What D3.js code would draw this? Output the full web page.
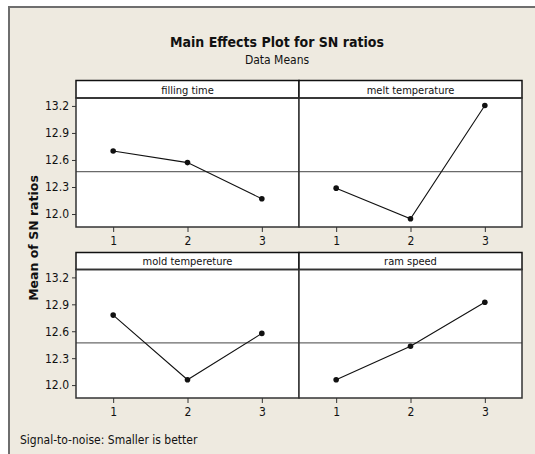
<!DOCTYPE html>
<html><head><meta charset="utf-8">
<script src="https://cdn.jsdelivr.net/npm/d3@7"></script>
<style>
body{margin:0;background:#fff;}
svg{display:block;}
.cond{font-family:"DejaVu Sans Condensed","DejaVu Sans",sans-serif;font-stretch:condensed;}
</style></head>
<body><div id="chart"></div>
<script>
const factors = ["filling time", "melt temperature", "mold tempereture", "ram speed"];
const levels = [1, 2, 3];
const fillingTime = [12.70, 12.571, 12.169];
const meltTemperature = [12.287, 11.948, 13.204];
const moldTemperature = [12.78, 12.059, 12.576];
const ramSpeed = [12.059, 12.433, 12.923];
const yTicks = [12.0, 12.3, 12.6, 12.9, 13.2];
const grandMean = 12.47;
const seriesList = [fillingTime, meltTemperature, moldTemperature, ramSpeed];

const W = 535, H = 454;
const svg = d3.select("#chart").append("svg").attr("width", W).attr("height", H);

// frame
svg.append("rect").attr("x", 9).attr("y", 7).attr("width", W - 9).attr("height", H - 7).attr("fill", "#EEEAE0");
svg.append("line").attr("x1", 8).attr("x2", W).attr("y1", 7).attr("y2", 7).attr("stroke", "#6e6e6e").attr("stroke-width", 2);
svg.append("line").attr("x1", 9).attr("x2", 9).attr("y1", 6).attr("y2", H).attr("stroke", "#6e6e6e").attr("stroke-width", 2);

// titles
svg.append("text").attr("x", 277).attr("y", 47).attr("text-anchor", "middle").attr("class", "cond")
  .attr("font-size", 14).attr("font-weight", "bold").attr("fill", "#111").text("Main Effects Plot for SN ratios");
svg.append("text").attr("x", 277).attr("y", 64).attr("text-anchor", "middle").attr("class", "cond")
  .attr("font-size", 12).attr("fill", "#111").text("Data Means");

// y label
svg.append("text").attr("transform", "translate(38,238) rotate(-90)").attr("text-anchor", "middle")
  .attr("font-family", "DejaVu Sans, sans-serif").attr("font-size", 12.5).attr("font-weight", "bold")
  .attr("fill", "#111").text("Mean of SN ratios");

// footer
svg.append("text").attr("x", 20).attr("y", 444).attr("class", "cond")
  .attr("font-size", 12).attr("fill", "#111").text("Signal-to-noise: Smaller is better");

const colX = [[76, 299], [299, 522]];
const rowY = [{strip: 80.5, top: 98, bottom: 227}, {strip: 252.5, top: 269.5, bottom: 398}];

factors.forEach((name, i) => {
  const c = i % 2, r = Math.floor(i / 2);
  const [x0, x1] = colX[c];
  const {strip, top, bottom} = rowY[r];
  const x = d3.scalePoint().domain(levels).range([x0, x1]).padding(0.5);
  const y = d3.scaleLinear().domain([11.856, 13.288]).range([bottom, top]);
  const g = svg.append("g");

  g.append("rect").attr("x", x0).attr("y", top).attr("width", x1 - x0).attr("height", bottom - top).attr("fill", "#fff");
  g.append("rect").attr("x", x0).attr("y", strip).attr("width", x1 - x0).attr("height", top - strip)
    .attr("fill", "#fff").attr("stroke", "#111").attr("stroke-width", 1.5);
  g.append("text").attr("x", (x0 + x1) / 2).attr("y", top - 4.5).attr("text-anchor", "middle").attr("class", "cond")
    .attr("font-size", 11).attr("fill", "#111").text(name);

  g.append("line").attr("x1", x0).attr("x2", x1).attr("y1", y(grandMean)).attr("y2", y(grandMean))
    .attr("stroke", "#6a6a6a").attr("stroke-width", 1.3);

  const vals = seriesList[i];
  const pts = levels.map((l, k) => [x(l), y(vals[k])]);
  g.append("path").attr("d", d3.line()(pts)).attr("fill", "none").attr("stroke", "#111").attr("stroke-width", 1.1);
  g.selectAll("circle.p").data(pts).join("circle").attr("cx", d => d[0]).attr("cy", d => d[1]).attr("r", 2.8).attr("fill", "#111");

  g.append("rect").attr("x", x0).attr("y", top).attr("width", x1 - x0).attr("height", bottom - top)
    .attr("fill", "none").attr("stroke", "#333").attr("stroke-width", 1.5);

  const xa = g.append("g").attr("transform", `translate(0,${bottom})`)
    .call(d3.axisBottom(x).tickSize(5).tickPadding(4));
  xa.select(".domain").remove();
  xa.selectAll("line").attr("stroke", "#333");
  xa.selectAll("text").attr("class", "cond").attr("font-size", 12).attr("fill", "#111");

  if (c === 0) {
    const ya = g.append("g").attr("transform", `translate(${x0},0)`)
      .call(d3.axisLeft(y).tickValues(yTicks).tickFormat(d3.format(".1f")).tickSize(4).tickPadding(3));
    ya.select(".domain").remove();
    ya.selectAll("line").attr("stroke", "#333");
    ya.selectAll("text").attr("class", "cond").attr("font-size", 12).attr("fill", "#111");
  }
});
</script></body></html>
